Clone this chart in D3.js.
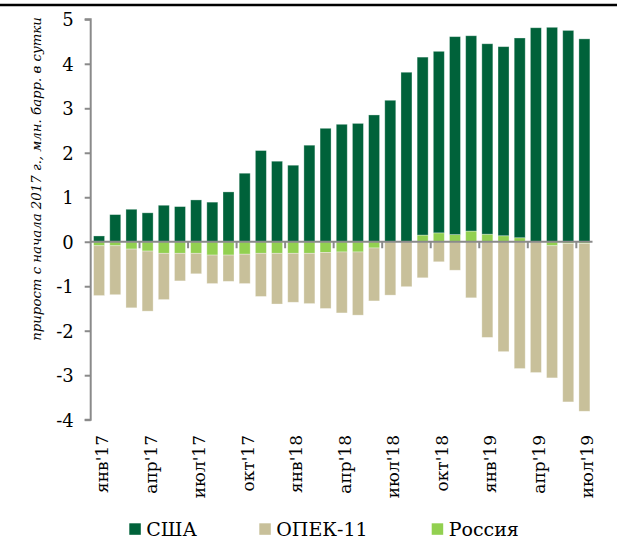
<!DOCTYPE html>
<html>
<head>
<meta charset="utf-8">
<script src="https://cdn.jsdelivr.net/npm/d3@7"></script>
<style>
  html, body { margin: 0; padding: 0; background: #fff; }
  svg { display: block; }
</style>
</head>
<body>
<script>
const categories = ["янв'17","фев'17","мар'17","апр'17","май'17","июн'17","июл'17","авг'17","сен'17","окт'17","ноя'17","дек'17",
  "янв'18","фев'18","мар'18","апр'18","май'18","июн'18","июл'18","авг'18","сен'18","окт'18","ноя'18","дек'18",
  "янв'19","фев'19","мар'19","апр'19","май'19","июн'19","июл'19"];
const usa    = [0.13,0.61,0.73,0.65,0.82,0.79,0.94,0.89,1.12,1.54,2.05,1.81,1.72,2.17,2.55,2.64,2.66,2.85,3.18,3.81,4.00,4.08,4.45,4.39,4.28,4.25,4.49,4.81,4.82,4.75,4.56];
const opec   = [-1.12,-1.10,-1.32,-1.35,-1.04,-0.62,-0.46,-0.64,-0.59,-0.66,-0.97,-1.14,-1.10,-1.13,-1.26,-1.37,-1.42,-1.19,-1.20,-1.01,-0.81,-0.45,-0.64,-1.26,-2.15,-2.47,-2.85,-2.94,-2.97,-3.56,-3.77];
const russia = [-0.09,-0.09,-0.165,-0.21,-0.26,-0.26,-0.26,-0.30,-0.30,-0.28,-0.26,-0.26,-0.26,-0.26,-0.24,-0.23,-0.23,-0.14,0,0,0.15,0.20,0.16,0.24,0.17,0.135,0.09,0,-0.09,-0.04,-0.04];
const yTicks = [-4,-3,-2,-1,0,1,2,3,4,5];
const seriesNames = ["США","ОПЕК-11","Россия"];
const seriesColors = {"США":"#00623A","ОПЕК-11":"#C8C09A","Россия":"#92D050"};
const yTitle = "прирост с начала 2017 г., млн. барр. в сутки";

const W = 617, H = 540;
const svg = d3.select("body").append("svg").attr("width", W).attr("height", H);
const FONT = "'DejaVu Serif', serif";

// top rule
svg.append("line").attr("x1",0).attr("x2",W).attr("y1",5).attr("y2",5)
  .attr("stroke","#000").attr("stroke-width",2.5);

const x = d3.scaleBand().domain(categories).range([91, 592.5]).paddingInner(0.32).paddingOuter(0.16);
const y = d3.scaleLinear().domain([-4,5]).range([419.7, 19.3]);

const rows = categories.map((c,i) => ({cat:c, "Россия":russia[i], "США":usa[i], "ОПЕК-11":opec[i]}));
const stack = d3.stack().keys(["Россия","США","ОПЕК-11"]).offset(d3.stackOffsetDiverging);
const layers = stack(rows);

const g = svg.append("g");
layers.forEach(layer => {
  g.selectAll(null).data(layer).enter().append("rect")
    .attr("x", d => x(d.data.cat))
    .attr("width", x.bandwidth())
    .attr("y", d => y(Math.max(d[0], d[1])))
    .attr("height", d => Math.abs(y(d[0]) - y(d[1])))
    .attr("fill", seriesColors[layer.key])
    .attr("stroke", "#ffffff").attr("stroke-opacity", 0.4).attr("stroke-width", 0.8);
});

const axisColor = "#8a8a8a";
// y axis
const yAxis = d3.axisLeft(y).tickValues(yTicks).tickSize(6).tickPadding(11).tickFormat(d => String(d));
const ya = svg.append("g").attr("transform","translate(90.7,0)").call(yAxis);
ya.select(".domain").attr("stroke", axisColor).attr("stroke-width", 2).attr("d", `M-6,${y(5)}H0V${y(-4)}H-6`);
ya.selectAll(".tick line").attr("stroke", axisColor).attr("stroke-width", 2);
ya.selectAll(".tick text").attr("font-family", FONT).attr("font-size", 18).attr("fill","#000").attr("dy","0.36em");

// zero category axis
const x0 = svg.append("g");
x0.append("line").attr("x1", 90.7).attr("x2", 592.5).attr("y1", y(0)).attr("y2", y(0))
  .attr("stroke", axisColor).attr("stroke-width", 2);
const step = x.step();
const tickIdx = d3.range(3, categories.length, 3);
x0.selectAll(null).data(tickIdx).enter().append("line")
  .attr("x1", i => x(categories[i]) - x.paddingInner()*step/2)
  .attr("x2", i => x(categories[i]) - x.paddingInner()*step/2)
  .attr("y1", y(0)).attr("y2", y(0) + 6.5)
  .attr("stroke", axisColor).attr("stroke-width", 2);

// category labels (every 3rd)
const labelIdx = d3.range(0, categories.length, 3);
svg.selectAll(null).data(labelIdx).enter().append("text")
  .attr("transform", i => `translate(${x(categories[i]) + x.bandwidth()/2 + 9},435) rotate(-90)`)
  .attr("text-anchor","end")
  .attr("font-family", FONT).attr("font-size", 17).attr("fill","#000")
  .text(i => categories[i]);

// y title
svg.append("text")
  .attr("transform", "translate(41,179) rotate(-90)")
  .attr("text-anchor","middle")
  .attr("font-family", "'DejaVu Serif', serif").attr("font-style","italic").attr("font-size", 13.3)
  .attr("fill","#000")
  .text(yTitle);

// legend
const legX = [129.3, 259.3, 431.7];
const lg = svg.append("g");
seriesNames.forEach((s,i) => {
  lg.append("rect").attr("x", legX[i]).attr("y", 523.3).attr("width", 11.5).attr("height", 11.5).attr("fill", seriesColors[s]);
  lg.append("text").attr("x", legX[i] + 17).attr("y", 535.5)
    .attr("font-family", FONT).attr("font-size", 19).attr("fill","#000").text(s);
});
</script>
</body>
</html>
